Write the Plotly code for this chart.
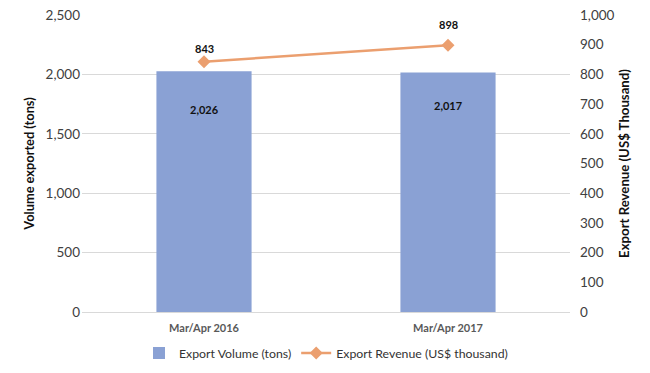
import plotly.graph_objects as go

categories = ["Mar/Apr 2016", "Mar/Apr 2017"]
volume = [2026, 2017]
revenue = [843, 898]
vol_ticks = [0, 500, 1000, 1500, 2000, 2500]
rev_ticks = [0, 100, 200, 300, 400, 500, 600, 700, 800, 900, 1000]

# label offsets (style only, in px)
bar_label_shift = [-38, -33]
line_label_shift = [13, 21]

FONT = "Lato"
GRAY = "#595959"

fig = go.Figure()
fig.add_trace(go.Bar(
    x=categories, y=volume, name="Export Volume (tons)",
    marker=dict(color="#8aa1d4", line=dict(width=0)),
    width=0.39, yaxis="y",
))
fig.add_trace(go.Scatter(
    x=categories, y=revenue, name="Export Revenue (US$ thousand)",
    mode="lines+markers", yaxis="y2",
    line=dict(color="#eb9f6f", width=2.5),
    marker=dict(symbol="diamond", size=10, color="#eb9f6f"),
))

for c, v, s in zip(categories, volume, bar_label_shift):
    fig.add_annotation(x=c, y=v, yref="y", text=f"<b>{v:,}</b>", showarrow=False,
                       yshift=s, font=dict(family=FONT, size=11, color="#111111"))
for c, v, s in zip(categories, revenue, line_label_shift):
    fig.add_annotation(x=c, y=v, yref="y2", text=f"<b>{v:,}</b>", showarrow=False,
                       yshift=s, font=dict(family=FONT, size=11, color="#111111"))

fig.update_layout(
    width=650, height=373,
    margin=dict(l=82, r=80, t=15, b=61, autoexpand=False),
    paper_bgcolor="white", plot_bgcolor="white",
    font=dict(family=FONT, size=13, color=GRAY),
    showlegend=True,
    legend=dict(orientation="h", x=0.5, xanchor="center", y=-0.138, yanchor="middle",
                font=dict(family=FONT, size=12.3, color="#333333"), traceorder="normal",
                itemwidth=30),
    xaxis=dict(type="category", showgrid=False, showline=True, linecolor="#d9d9d9",
               linewidth=1, tickfont=dict(family=FONT, size=11, color=GRAY, weight="bold"),
               ticks="", ticklabelstandoff=6, automargin=False),
    yaxis=dict(range=[0, 2500], tickvals=vol_ticks, tickformat=",", showgrid=True,
               gridcolor="#d9d9d9", gridwidth=1, zeroline=False, automargin=False,
               tickfont=dict(family=FONT, size=13.5, color="#404040"),
               ticklabelstandoff=1,
               title=dict(text="<b>Volume exported (tons)</b>",
                          font=dict(family=FONT, size=12.8, color="#111111"), standoff=8)),
    yaxis2=dict(range=[0, 1000], tickvals=rev_ticks, tickformat=",", overlaying="y",
                side="right", showgrid=False, zeroline=False, automargin=False,
                tickfont=dict(family=FONT, size=13.5, color="#404040"),
                ticklabelstandoff=9,
                title=dict(text="<b>Export Revenue (US$ Thousand)</b>",
                           font=dict(family=FONT, size=13.2, color="#111111"), standoff=6)),
)

fig.write_html("out.html", config={"displayModeBar": False},
               post_script="document.body.style.margin='0';")
